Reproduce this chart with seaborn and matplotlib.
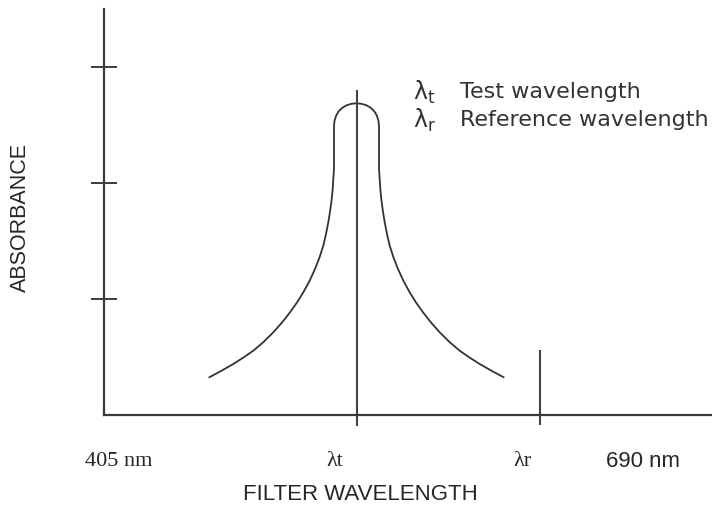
import pandas as pd
import matplotlib.pyplot as plt
import seaborn as sns

# Curva de absorbância (unidades do desenho: x = posição no eixo, y = altura)
left_x = [209.3, 221.0, 233.3, 243.5, 253.3, 263.5, 273.3, 282.0, 290.0, 297.0, 303.3, 309.5,
          315.0, 319.5, 323.3, 326.0, 328.3, 330.2, 331.7, 332.7, 333.3, 334.0]
left_y = [37.7, 44.0, 51.0, 57.5, 64.3, 73.0, 82.7, 92.5, 102.7, 112.5, 122.7, 134.0,
          146.0, 157.5, 169.3, 181.0, 192.7, 204.5, 216.0, 226.0, 236.0, 246.0]
arc_x = [334.0, 334.5, 336.0, 338.5, 342.0, 346.5, 351.5, 356.5,
         361.5, 366.5, 371.0, 374.5, 377.0, 378.5, 379.0]
arc_y = [289.0, 294.0, 299.0, 303.5, 307.0, 309.7, 311.2, 311.7,
         311.2, 309.7, 307.0, 303.5, 299.0, 294.0, 289.0]
right_x = [379.0, 379.7, 380.3, 381.3, 382.8, 384.7, 387.0, 389.7, 393.5, 398.0, 403.5, 409.7,
           416.0, 423.0, 431.0, 439.7, 449.5, 459.7, 469.5, 479.7, 492.0, 503.7]
right_y = [246.0, 236.0, 226.0, 216.0, 204.5, 192.7, 181.0, 169.3, 157.5, 146.0, 134.0, 122.7,
           112.5, 102.7, 92.5, 82.7, 73.0, 64.3, 57.5, 51.0, 44.0, 37.7]

# Linhas verticais dos comprimentos de onda
marker_x = [356.5, 539.5]
marker_top = [325, 65]
marker_bottom = [-11, -10]

# Rótulos do eixo x
label_x = [119, 335, 522, 643]
label_text = ["405 nm", "λt", "λr", "690 nm"]
label_font = ["Liberation Serif", "Liberation Serif", "Liberation Serif", "Liberation Sans"]

# Marcas do eixo y
ytick_pos = [116, 232, 348]

# Legenda
legend_sym = [r"$\mathrm{\lambda_t}$", r"$\mathrm{\lambda_r}$"]
legend_text = ["Test wavelength", "Reference wavelength"]
legend_y = [324, 296]

sns.set_style("white")
plt.rcParams["font.family"] = ["DejaVu Sans"]
plt.rcParams["mathtext.fontset"] = "dejavusans"

df = pd.DataFrame({"x": left_x + arc_x + right_x, "y": left_y + arc_y + right_y})
line_color = "#333333"

fig = plt.figure(figsize=(7.12, 5.06), dpi=100)
ax = fig.add_axes([104 / 712, 90 / 506, 608 / 712, 406 / 506])

sns.lineplot(x="x", y="y", data=df, sort=False, estimator=None, color=line_color, lw=1.3, ax=ax)
ax.vlines(marker_x, marker_bottom, marker_top, color="#444444", lw=1.5, clip_on=False)

ax.set_xlim(104, 712)
ax.set_ylim(0, 406)

for s in ["top", "right"]:
    ax.spines[s].set_visible(False)
for s in ["left", "bottom"]:
    ax.spines[s].set_color("#3a3a3a")
    ax.spines[s].set_linewidth(1.6)

ax.set_xticks([])
ax.set_yticks(ytick_pos)
ax.set_yticklabels([])
ax.tick_params(axis="y", direction="inout", length=19, width=1.4, color="#3a3a3a", left=True)
ax.set_xlabel("")
ax.set_ylabel("")

for x, t, f in zip(label_x, label_text, label_font):
    ax.text(x, -46, t, ha="center", va="center", fontsize=16, family=f, clip_on=False)

fig.text(360 / 712, 1 - 495 / 506, "FILTER WAVELENGTH", ha="center", va="center",
         fontsize=16, family="Liberation Sans")
fig.text(20 / 712, 1 - 218 / 506, "ABSORBANCE", ha="center", va="center", rotation=90,
         fontsize=15.5, family="Liberation Sans")

for sym, txt, y in zip(legend_sym, legend_text, legend_y):
    ax.text(413, y, sym, ha="left", va="center", fontsize=17, color="#333333")
    ax.text(460, y, txt, ha="left", va="center", fontsize=16, color="#333333")

plt.savefig("out.png", dpi=100)
plt.close()
